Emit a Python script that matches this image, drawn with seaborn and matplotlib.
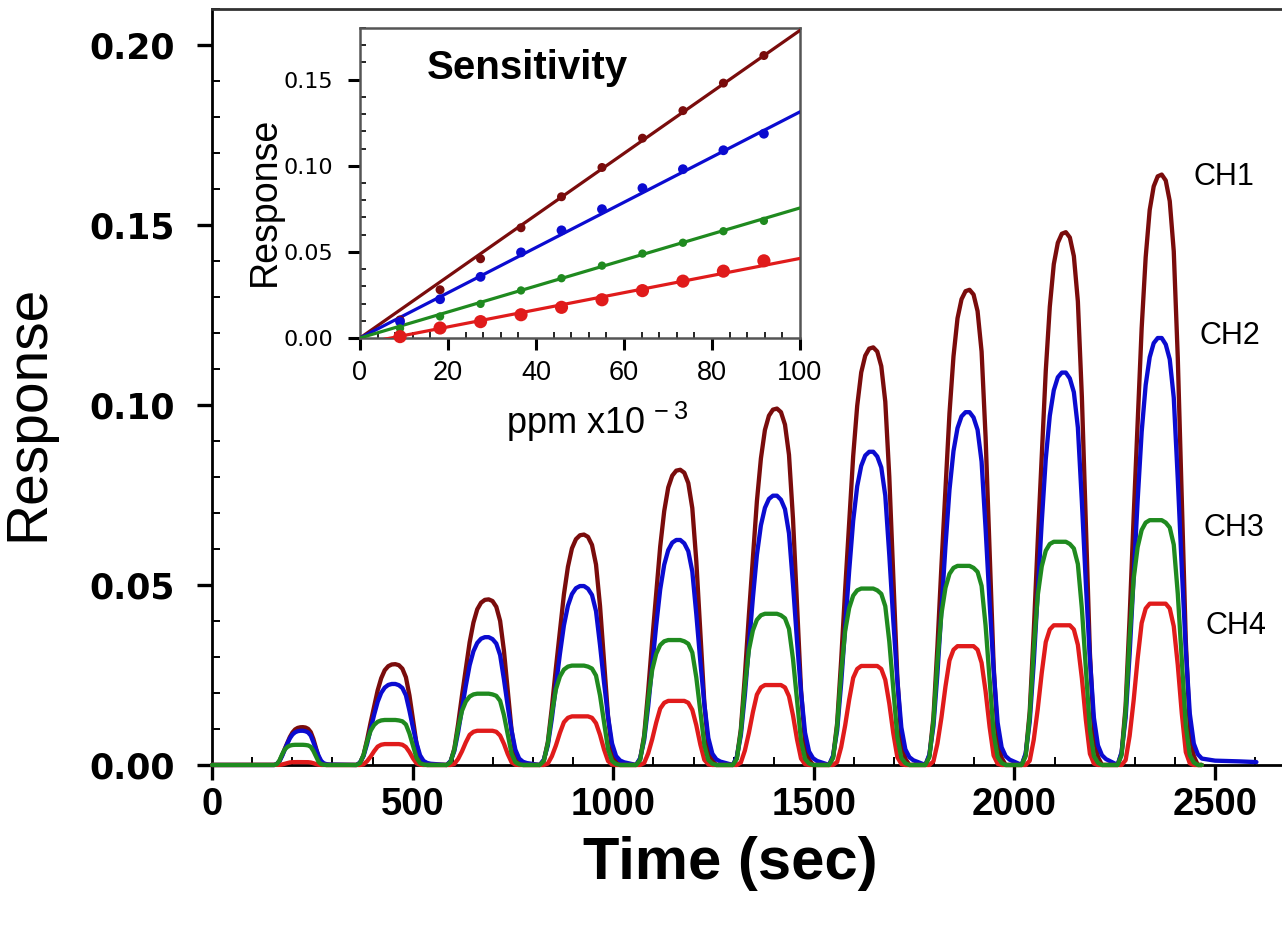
import numpy as np
import pandas as pd
import seaborn as sns
import matplotlib.pyplot as plt
from matplotlib.ticker import MultipleLocator, FormatStrFormatter

# channels and colours
channels = ["CH1", "CH2", "CH3", "CH4"]
colors = ["#7a0c0c", "#0b0bd0", "#1f8a1f", "#e01b1b"]

# pulse centres (sec), relative pulse widths and peak response of each pulse
pulse_center = [220, 448, 680, 917, 1157, 1398, 1638, 1878, 2118, 2357]
pulse_width = [0.65, 0.88, 0.95, 1.0, 1.0, 1.0, 1.0, 1.0, 1.0, 1.0]
ch1_peak = [0.0105, 0.028, 0.046, 0.064, 0.082, 0.099, 0.116, 0.132, 0.148, 0.164]
ch2_peak = [0.0095, 0.0225, 0.0355, 0.0497, 0.0625, 0.0748, 0.087, 0.098, 0.109, 0.1186]
ch3_peak = [0.0056, 0.0125, 0.0198, 0.0276, 0.0347, 0.042, 0.049, 0.0553, 0.062, 0.068]
ch4_peak = [0.0008, 0.0058, 0.0095, 0.0135, 0.0178, 0.0222, 0.0275, 0.033, 0.0388, 0.0448]

# pulse profile (sec from centre, fraction of peak)
shape_offset = [-100, -90, -80, -70, -60, -50, -40, -30, -20, -10, 0,
                10, 20, 30, 40, 50, 60, 70, 80, 90, 100, 110]
ch1_shape = [0, 0.02, 0.10, 0.25, 0.42, 0.58, 0.74, 0.86, 0.94, 0.98, 0.997,
             1.0, 0.99, 0.955, 0.87, 0.69, 0.45, 0.21, 0.06, 0.015, 0, 0]
ch2_shape = [0, 0.03, 0.11, 0.26, 0.44, 0.62, 0.78, 0.89, 0.955, 0.988, 1.0,
             1.0, 0.985, 0.95, 0.86, 0.67, 0.46, 0.27, 0.12, 0.05, 0.025, 0.015]
ch3_shape = [0, 0.04, 0.22, 0.52, 0.76, 0.89, 0.96, 0.99, 1.0, 1.0, 1.0,
             1.0, 0.99, 0.97, 0.90, 0.70, 0.43, 0.16, 0.04, 0.01, 0, 0]
ch4_shape = [0, 0, 0.03, 0.18, 0.40, 0.66, 0.88, 0.97, 1.0, 1.0, 1.0,
             1.0, 1.0, 0.97, 0.86, 0.62, 0.32, 0.08, 0.01, 0, 0, 0]

# blue baseline drift after the last pulse
ch2_tail_t = [2500, 2560, 2603]
ch2_tail_v = [0.0012, 0.001, 0.0008]

# inset: concentration (ppm x10^-3) and linear fits
conc_ppm = [9.1, 18.2, 27.4, 36.6, 45.8, 55.0, 64.2, 73.4, 82.6, 91.8]
fit_x = [0, 100]
fit_at_0 = [0.0, 0.0, 0.0, -0.0035]
fit_at_100 = [0.1786, 0.1313, 0.0755, 0.0462]
marker_size = [42, 50, 36, 90]

peaks = [ch1_peak, ch2_peak, ch3_peak, ch4_peak]
shapes = [ch1_shape, ch2_shape, ch3_shape, ch4_shape]

frames = []
for ch, pk, sh in zip(channels, peaks, shapes):
    t = [0.0]
    v = [0.0]
    for c, w, p in zip(pulse_center, pulse_width, pk):
        t += [c + o * w for o in shape_offset]
        v += [p * s for s in sh]
    if ch == "CH2":
        t += ch2_tail_t
        v += ch2_tail_v
    frames.append(pd.DataFrame({"time": t, "response": v, "channel": ch}))
df = pd.concat(frames, ignore_index=True)

pts = pd.DataFrame({
    "conc": conc_ppm * 4,
    "response": ch1_peak + ch2_peak + ch3_peak + ch4_peak,
    "channel": [ch for ch in channels for _ in conc_ppm],
})
fits = pd.DataFrame({
    "conc": fit_x * 4,
    "response": [v for a, b in zip(fit_at_0, fit_at_100) for v in (a, b)],
    "channel": [ch for ch in channels for _ in fit_x],
})

sns.set_style("ticks")
plt.rcParams["font.family"] = ["Liberation Sans", "DejaVu Sans"]
plt.rcParams["mathtext.default"] = "regular"
for k in ["text.color", "axes.labelcolor", "xtick.color", "ytick.color"]:
    plt.rcParams[k] = "black"

fig = plt.figure(figsize=(12.82, 9.26), dpi=100)
ax = fig.add_axes([0.1654, 0.1739, 0.845, 0.8164])

palette = dict(zip(channels, colors))
for ch in ["CH1", "CH2", "CH4", "CH3"]:
    sns.lineplot(data=df[df.channel == ch], x="time", y="response",
                 color=palette[ch], lw=3.1, ax=ax, estimator=None,
                 sort=False, clip_on=False, zorder=3)

ax.set_xlim(0, 2700)
ax.set_ylim(0, 0.21)
ax.xaxis.set_major_locator(MultipleLocator(500))
ax.xaxis.set_minor_locator(MultipleLocator(100))
ax.yaxis.set_major_locator(MultipleLocator(0.05))
ax.yaxis.set_minor_locator(MultipleLocator(0.01))
ax.yaxis.set_major_formatter(FormatStrFormatter("%.2f"))
ax.tick_params(which="major", direction="out", length=11, width=2.4,
               bottom=True, left=True)
ax.tick_params(which="minor", direction="in", length=5.5, width=1.4,
               bottom=True, left=True)
ax.tick_params(axis="x", which="major", labelsize=27.5, pad=5)
ax.tick_params(axis="y", which="major", labelsize=25, pad=16)
for lab in ax.get_xticklabels():
    lab.set_fontweight("bold")
for lab in ax.get_yticklabels():
    lab.set_fontweight("bold")
    lab.set_fontfamily("DejaVu Sans")
for s in ["left", "bottom", "top"]:
    ax.spines[s].set_linewidth(2)
    ax.spines[s].set_color("black")
ax.spines["top"].set_color("#333333")
ax.spines["right"].set_visible(False)

ax.set_xlabel("Time (sec)", fontsize=43, fontweight="bold")
ax.set_ylabel("Response", fontsize=41)
ax.xaxis.set_label_coords(0.478, -0.094)
ax.yaxis.set_label_coords(-0.145, 0.466)

label_t = [2445, 2462, 2470, 2475]
label_v = [0.1633, 0.1192, 0.0658, 0.0386]
for ch, lt, lv in zip(channels, label_t, label_v):
    ax.text(lt, lv, ch, fontsize=22, ha="left", va="center")

# inset
ins = fig.add_axes([0.2808, 0.635, 0.3432, 0.3348])
for ch, ms in zip(channels, marker_size):
    sns.lineplot(data=fits[fits.channel == ch], x="conc", y="response",
                 color=palette[ch], lw=2.3, ax=ins, zorder=3)
    sns.scatterplot(data=pts[pts.channel == ch], x="conc", y="response",
                    color=palette[ch], s=ms, edgecolor="none", ax=ins,
                    zorder=4, clip_on=False)
ins.set_xlim(0, 100)
ins.set_ylim(0, 0.18)
ins.xaxis.set_major_locator(MultipleLocator(20))
ins.xaxis.set_minor_locator(MultipleLocator(4))
ins.yaxis.set_major_locator(MultipleLocator(0.05))
ins.yaxis.set_minor_locator(MultipleLocator(0.01))
ins.yaxis.set_major_formatter(FormatStrFormatter("%.2f"))
ins.tick_params(which="major", direction="out", length=8.5, width=2.2,
                bottom=True, left=True)
ins.tick_params(which="minor", direction="in", length=4, width=1.2,
                bottom=True, left=True)
ins.tick_params(axis="x", which="major", labelsize=19.5, pad=7)
ins.tick_params(axis="y", which="major", labelsize=16, pad=11)
for lab in ins.get_yticklabels():
    lab.set_fontfamily("DejaVu Sans")
for s in ins.spines.values():
    s.set_linewidth(1.8)
    s.set_color("#555555")
ins.set_xlabel("ppm x10$^{\\,-3}$", fontsize=26)
ins.set_ylabel("Response", fontsize=27)
ins.xaxis.set_label_coords(0.54, -0.2)
ins.yaxis.set_label_coords(-0.175, 0.442)
ins.text(0.152, 0.87, "Sensitivity", transform=ins.transAxes,
         fontsize=29, fontweight="bold", ha="left", va="center")

fig.savefig("out.png", dpi=100)
